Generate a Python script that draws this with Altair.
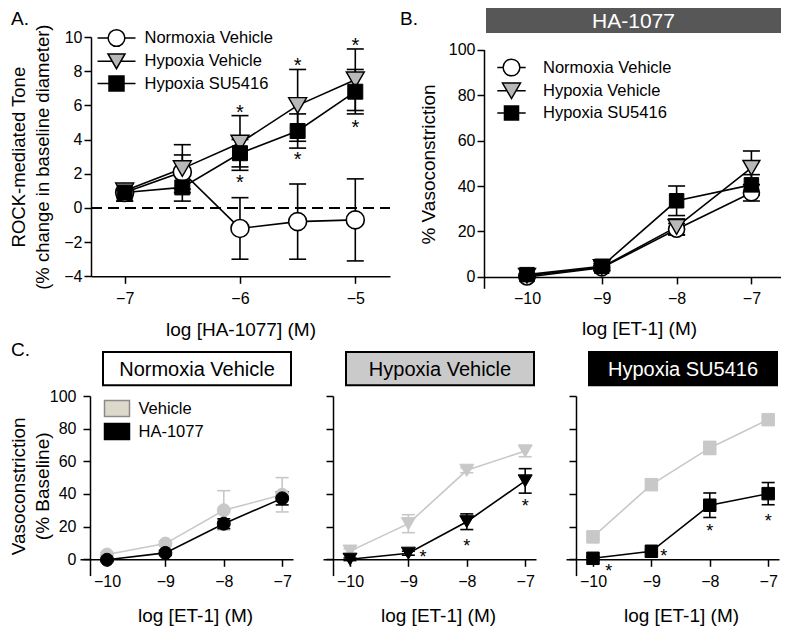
import altair as alt
import pandas as pd

FONT = "Liberation Sans"

# ---------------- data ----------------
SERIES = ["Normoxia Vehicle", "Hypoxia Vehicle", "Hypoxia SU5416"]

# Panel A: ROCK-mediated tone vs log [HA-1077]
A_X = [-7, -6.5, -6, -5.5, -5]
A_NORM = [0.9, 2.1, -1.2, -0.8, -0.7]
A_NORM_ERR = [0.5, 1.0, 1.8, 2.2, 2.4]
A_HV = [1.0, 2.3, 3.8, 6.0, 7.5]
A_HV_ERR = [0.4, 1.4, 1.6, 2.1, 1.8]
A_SU = [0.9, 1.2, 3.2, 4.5, 6.8]
A_SU_ERR = [0.5, 0.8, 0.8, 1.0, 1.3]
A_STAR_X = [-6, -5.5, -5, -6, -5.5, -5]
A_STAR_Y = [5.85, 8.6, 9.8, 1.75, 3.1, 5.0]
A_XTICKS = [-7, -6, -5]
A_YTICKS = [-4, -2, 0, 2, 4, 6, 8, 10]

# Panel B: % vasoconstriction with HA-1077
B_X = [-10, -9, -8, -7]
B_NORM = [0.0, 4.0, 21.0, 37.0]
B_NORM_ERR = [0.5, 1.0, 2.5, 3.6]
B_HV = [0.5, 4.3, 22.0, 48.0]
B_HV_ERR = [0.5, 1.5, 3.5, 7.4]
B_SU = [1.0, 4.7, 33.5, 40.5]
B_SU_ERR = [0.5, 2.0, 6.5, 4.5]

ET_TICKS = [-10, -9, -8, -7]
V_TICKS = [0, 20, 40, 60, 80, 100]

# Panel C: vehicle vs HA-1077 per group
C_GROUPS = ["Vehicle", "HA-1077"]
C_X = [-10, -9, -8, -7]
C1_VEH = [2.9, 9.6, 30.0, 39.5]
C1_VEH_ERR = [1.0, 1.5, 12.0, 10.5]
C1_HA = [-0.3, 3.9, 21.8, 37.3]
C1_HA_ERR = [1.0, 1.5, 3.0, 4.0]
C2_VEH = [5.0, 21.8, 54.5, 66.3]
C2_VEH_ERR = [1.5, 5.5, 1.5, 3.5]
C2_HA = [0.0, 3.7, 23.0, 48.0]
C2_HA_ERR = [0.8, 1.2, 4.8, 7.5]
C3_VEH = [13.7, 45.7, 68.2, 85.5]
C3_VEH_ERR = [1.5, 3.0, 4.0, 2.0]
C3_HA = [0.6, 4.9, 33.1, 40.2]
C3_HA_ERR = [1.0, 1.0, 7.5, 6.8]
C2_STAR_X = [-8.75, -8.0, -7.0]
C2_STAR_Y = [4.0, 11.0, 35.0]
C3_STAR_X = [-9.73, -8.79, -8.0, -7.0]
C3_STAR_Y = [-4.3, 4.5, 19.8, 25.9]

BLACK = "#000000"
HV_GRAY = "#b8b8b8"
C_GRAY = "#c8c8c8"


def series_df(xs, vals, errs, name):
    return pd.DataFrame({
        "x": xs,
        "y": vals,
        "lo": [v - e for v, e in zip(vals, errs)],
        "hi": [v + e for v, e in zip(vals, errs)],
        "series": [name] * len(xs),
    })


def axis(**kw):
    base = dict(domainColor="black", domainWidth=1.5, tickColor="black", tickWidth=1.5,
                tickSize=7, labelFont=FONT, labelFontSize=16, labelColor="black",
                titleFont=FONT, titleFontSize=19, titleColor="black",
                titleFontWeight="normal", grid=False, labelFlush=False,
                labelOverlap=False)
    base.update(kw)
    return alt.Axis(**base)


def encoders(xs, ys, xaxis, yaxis):
    def X(f="x"):
        return alt.X(f"{f}:Q", scale=xs, axis=xaxis)

    def Y(f="y"):
        return alt.Y(f"{f}:Q", scale=ys, axis=yaxis)
    return X, Y


def data_layers(X, Y, series, cap):
    out = []
    for s in series:
        out.append(alt.Chart(s["df"]).mark_line(color=s["line"], strokeWidth=1.6)
                   .encode(x=X(), y=Y()))
    for s in series:
        c = alt.Chart(s["df"])
        out.append(c.mark_rule(color=s["err"], strokeWidth=1.6)
                   .encode(x=X(), y=Y("lo"), y2=alt.Y2("hi")))
        for f in ("lo", "hi"):
            out.append(c.mark_tick(orient="horizontal", size=cap, thickness=1.6,
                                   color=s["err"], opacity=1)
                       .encode(x=X(), y=Y(f)))
    for s in series:
        out.append(alt.Chart(s["df"]).mark_point(shape=s["shape"], size=s["size"],
                                                 filled=True, fill=s["fill"],
                                                 stroke=s["stroke"], strokeWidth=s["sw"],
                                                 opacity=1)
                   .encode(x=X(), y=Y()))
    return out


def star_layer(X, Y, xs, ys, fs):
    df = pd.DataFrame({"x": xs, "y": ys})
    return alt.Chart(df).mark_text(text="*", font=FONT, fontSize=fs, color="black",
                                   baseline="alphabetic", align="center",
                                   dy=round(0.57 * fs, 1)).encode(x=X(), y=Y())


def header(label, x0, x1, y0, y1, fill, tcolor, fs, stroke=""):
    d = alt.Chart(pd.DataFrame({"t": [label]}))
    if stroke:
        rect = d.mark_rect(fill=fill, stroke=stroke, strokeWidth=2)
    else:
        rect = d.mark_rect(fill=fill)
    rect = rect.encode(x=alt.value(x0), x2=alt.value(x1), y=alt.value(y0), y2=alt.value(y1))
    txt = d.mark_text(font=FONT, fontSize=fs, color=tcolor, align="center",
                      baseline="middle").encode(x=alt.value((x0 + x1) / 2),
                                                y=alt.value((y0 + y1) / 2 + 1), text="t:N")
    return [rect, txt]


def letter(label, x, y):
    d = alt.Chart(pd.DataFrame({"t": [label]}))
    return d.mark_text(font=FONT, fontSize=19, color="black", align="left",
                       baseline="middle").encode(x=alt.value(x), y=alt.value(y), text="t:N")


def circ(c):
    return f"M{c},0A{c},{c},0,1,1,{-c},0A{c},{c},0,1,1,{c},0Z"


def leg_paths(c, a, h, s, L):
    p_circle = f"M{-L},0H{-c}M{c},0H{L}" + circ(c)
    p_tri = f"M{-L},0H{-a/2:.3f}M{a/2:.3f},0H{L}M{-a},{-h}L{a},{-h}L0,{h}Z"
    p_sq = f"M{-L},0H{-s}M{s},0H{L}M{-s},{-s}H{s}V{s}H{-s}Z"
    return [p_circle, p_tri, p_sq]


def series_legend(X, Y, df, size, lx, ly, loff, rowpad, paths):
    leg = alt.Legend(orient="none", legendX=lx, legendY=ly, title=None, padding=0,
                     labelFont=FONT, labelFontSize=16.5, labelColor="black",
                     labelOffset=loff, rowPadding=rowpad, symbolSize=size,
                     symbolStrokeWidth=1.5, labelLimit=300)
    return alt.Chart(df).transform_filter("false").mark_point(
        size=size, filled=True, stroke="black", strokeWidth=1.5, opacity=1
    ).encode(
        x=X(), y=Y(),
        shape=alt.Shape("series:N", scale=alt.Scale(domain=SERIES, range=paths), legend=leg),
        fill=alt.Fill("series:N", scale=alt.Scale(domain=SERIES,
                                                  range=["#ffffff", HV_GRAY, BLACK]), legend=leg),
    )


# ---------------- Panel A ----------------
A_W, A_H = 310, 239.3
A_XDOM = [-7.292, -4.699]
a_xs = alt.Scale(domain=A_XDOM, range=[11, A_W], nice=False, zero=False)
a_ys = alt.Scale(domain=[-4, 10], nice=False, zero=False)
a_xaxis = axis(values=A_XTICKS, labelPadding=7, title="log [HA-1077] (M)",
               titleX=160.5, titleY=53, titleBaseline="middle", titleAlign="center")
a_yaxis = axis(values=A_YTICKS, labelPadding=2, offset=-11,
               title=["ROCK-mediated Tone", "(% change in baseline diameter)"],
               titleAngle=270, titleAlign="center", titleBaseline="bottom",
               titleX=-63, titleY=A_H / 2, titleLineHeight=24, titleFontSize=18.5)
AX, AY = encoders(a_xs, a_ys, a_xaxis, a_yaxis)

a_series = [
    dict(df=series_df(A_X, A_NORM, A_NORM_ERR, SERIES[0]), line=BLACK, err=BLACK,
         shape="circle", size=324, fill="#ffffff", stroke=BLACK, sw=1.6),
    dict(df=series_df(A_X, A_HV, A_HV_ERR, SERIES[1]), line=BLACK, err=BLACK,
         shape="triangle-down", size=324, fill=HV_GRAY, stroke=BLACK, sw=1.4),
    dict(df=series_df(A_X, A_SU, A_SU_ERR, SERIES[2]), line=BLACK, err=BLACK,
         shape="square", size=225, fill=BLACK, stroke=BLACK, sw=1),
]
zdf = pd.DataFrame({"x": [A_XDOM[0]], "x2": [A_XDOM[1]], "y": [0]})
a_zero = alt.Chart(zdf).mark_rule(color="black", strokeWidth=2, strokeDash=[11, 6]).encode(
    x=AX(), x2=alt.X2("x2"), y=AY())
a_all = pd.concat([s["df"] for s in a_series])
A = alt.layer(
    a_zero,
    *data_layers(AX, AY, a_series, 17),
    star_layer(AX, AY, A_STAR_X, A_STAR_Y, 20),
    series_legend(AX, AY, a_all, 441, 25, -10.5, 16.5, 0.3,
                  leg_paths(0.795, 0.81, 0.70, 0.714, 1.81)),
    letter("A.", -69, -18),
).properties(width=A_W, height=A_H)

# ---------------- Panel B ----------------
B_W, B_H = 297, 251.3
B_XDOM = [-10.575, -10.575 + B_W / 74.8]
b_xs = alt.Scale(domain=B_XDOM, range=[0, B_W], nice=False, zero=False)
b_ys = alt.Scale(domain=[-5, 100], range=[B_H, 12.6], nice=False, zero=False)
b_xaxis = axis(values=ET_TICKS, labelPadding=7, offset=-11.4, title="log [ET-1] (M)",
               titleX=155, titleY=52, titleBaseline="middle", titleAlign="center")
b_yaxis = axis(values=V_TICKS, labelPadding=2, title="% Vasoconstriction",
               titleAngle=270, titleAlign="center", titleBaseline="bottom",
               titleX=-46, titleY=127)
BX, BY = encoders(b_xs, b_ys, b_xaxis, b_yaxis)
b_series = [
    dict(df=series_df(B_X, B_NORM, B_NORM_ERR, SERIES[0]), line=BLACK, err=BLACK,
         shape="circle", size=256, fill="#ffffff", stroke=BLACK, sw=1.6),
    dict(df=series_df(B_X, B_HV, B_HV_ERR, SERIES[1]), line=BLACK, err=BLACK,
         shape="triangle-down", size=289, fill=HV_GRAY, stroke=BLACK, sw=1.4),
    dict(df=series_df(B_X, B_SU, B_SU_ERR, SERIES[2]), line=BLACK, err=BLACK,
         shape="square", size=210, fill=BLACK, stroke=BLACK, sw=1),
]
b_all = pd.concat([s["df"] for s in b_series])
B = alt.layer(
    *header("HA-1077", 2, B_W, -29, -4, "#575757", "#ffffff", 21),
    *data_layers(BX, BY, b_series, 17),
    series_legend(BX, BY, b_all, 324, 17.5, 20.5, 21.5, 0.3,
                  leg_paths(0.928, 1.0, 0.866, 0.78, 1.578)),
    letter("B.", -84, -18),
).properties(width=B_W, height=B_H)

# ---------------- Panel C ----------------
C_W, C_H = 213, 179.6
C_XDOM = [-10.462, -10.462 + C_W / 58.4]
c_xs = alt.Scale(domain=C_XDOM, range=[0, C_W], nice=False, zero=False)
c_ys = alt.Scale(domain=[-10, 100], nice=False, zero=False)
c_xaxis = axis(values=ET_TICKS, labelPadding=7, offset=-16.3, title="log [ET-1] (M)",
               titleX=115, titleY=56, titleBaseline="middle", titleAlign="center")
c1_yaxis = axis(values=V_TICKS, labelPadding=7, offset=-10,
                title=["Vasoconstriction", "(% Baseline)"], titleAngle=270,
                titleAlign="center", titleBaseline="bottom", titleX=-62,
                titleLineHeight=24)
c23_yaxis = axis(values=V_TICKS, labels=False, offset=-10, title=None)


def c_series(veh, veh_err, ha, ha_err, shape, size):
    return [
        dict(df=series_df(C_X, veh, veh_err, C_GROUPS[0]), line=C_GRAY, err=C_GRAY,
             shape=shape, size=size, fill=C_GRAY, stroke=C_GRAY, sw=1),
        dict(df=series_df(C_X, ha, ha_err, C_GROUPS[1]), line=BLACK, err=BLACK,
             shape=shape, size=size, fill=BLACK, stroke=BLACK, sw=1),
    ]


C1X, C1Y = encoders(c_xs, c_ys, c_xaxis, c1_yaxis)
c1s = c_series(C1_VEH, C1_VEH_ERR, C1_HA, C1_HA_ERR, "circle", 169)
c1_all = pd.concat([s["df"] for s in c1s])
c_leg = alt.Legend(orient="none", legendX=25.5, legendY=1.1, title=None, padding=0,
                   labelFont=FONT, labelFontSize=16.5, labelColor="black", labelOffset=10,
                   rowPadding=-3, symbolSize=441, symbolStrokeWidth=1.5, labelLimit=300,
                   symbolType="M-1.19,-0.76H1.19V0.76H-1.19Z")
c1_legend = alt.Chart(c1_all).transform_filter("false").mark_point(
    shape="M-1.19,-0.76H1.19V0.76H-1.19Z", size=441, filled=True, strokeWidth=1.5, opacity=1
).encode(
    x=C1X(), y=C1Y(),
    fill=alt.Fill("series:N", scale=alt.Scale(domain=C_GROUPS, range=["#dcd8ca", BLACK]),
                  legend=c_leg),
    stroke=alt.Stroke("series:N", scale=alt.Scale(domain=C_GROUPS, range=["#8a8a8a", BLACK]),
                      legend=c_leg),
)
C1 = alt.layer(
    *header("Normoxia Vehicle", 23, 211, -44, -10.7, "#ffffff", "black", 20, stroke="black"),
    *data_layers(C1X, C1Y, c1s, 13),
    c1_legend,
    letter("C.", -69, -45.7),
).properties(width=C_W, height=C_H)

C2X, C2Y = encoders(c_xs, c_ys, c_xaxis, c23_yaxis)
c2s = c_series(C2_VEH, C2_VEH_ERR, C2_HA, C2_HA_ERR, "triangle-down", 196)
C2 = alt.layer(
    *header("Hypoxia Vehicle", 23, 211, -44, -10.7, "#cacaca", "black", 20, stroke="black"),
    *data_layers(C2X, C2Y, c2s, 13),
    star_layer(C2X, C2Y, C2_STAR_X, C2_STAR_Y, 18),
).properties(width=C_W, height=C_H)

C3X, C3Y = encoders(c_xs, c_ys, c_xaxis, c23_yaxis)
c3s = c_series(C3_VEH, C3_VEH_ERR, C3_HA, C3_HA_ERR, "square", 156)
C3 = alt.layer(
    *header("Hypoxia SU5416", 23, 211, -44, -10.7, "#000000", "#ffffff", 20, stroke="black"),
    *data_layers(C3X, C3Y, c3s, 13),
    star_layer(C3X, C3Y, C3_STAR_X, C3_STAR_Y, 18),
).properties(width=C_W, height=C_H)

IND = dict(x="independent", y="independent", fill="independent",
           shape="independent", stroke="independent")
LIND = dict(fill="independent", shape="independent", stroke="independent")

row0 = alt.hconcat(A, B, spacing=94, bounds="flush").resolve_scale(**IND).resolve_legend(**LIND)
row1 = alt.hconcat(C1, C2, C3, spacing=30, bounds="flush").resolve_scale(**IND).resolve_legend(**LIND)

chart = alt.vconcat(row0, row1, spacing=1).resolve_scale(**IND).resolve_legend(**LIND).properties(
    padding=0, background="white"
).configure_view(stroke=None)

chart.save("out.html", embed_options={"renderer": "svg", "actions": False})
